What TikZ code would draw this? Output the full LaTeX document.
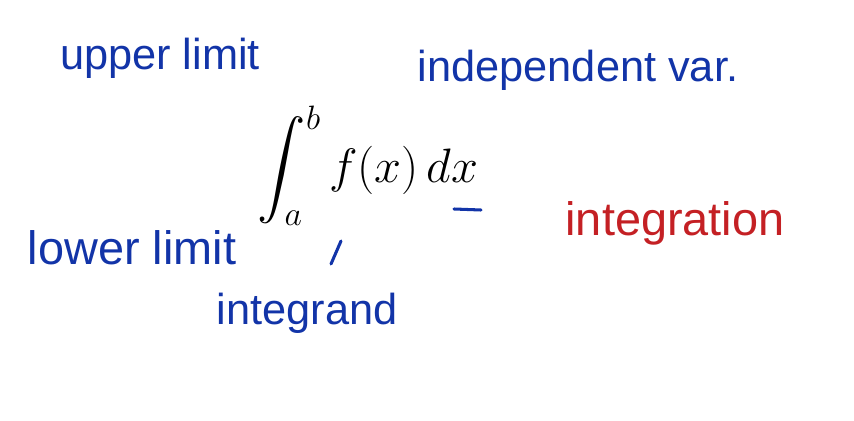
\RequirePackage{fix-cm}
\documentclass[tikz,border=0pt]{standalone}
\usepackage{amsmath,amssymb}
\usepackage{fontspec}
\setmainfont{Liberation Sans}
\usepackage{tikz}
\usetikzlibrary{arrows.meta,positioning}

\definecolor{inkblue}{RGB}{18,52,168}
\definecolor{inkred}{RGB}{196,32,36}

\begin{document}
\begin{tikzpicture}[
  x=0.03cm,y=-0.03cm,
  note/.style={text=inkblue,font=\fontsize{40}{44}\selectfont,inner sep=0pt},
  smallnote/.style={note,font=\fontsize{37}{41}\selectfont},
  stroke/.style={draw=inkblue,line width=2.6pt,line cap=round}
]
\useasboundingbox (0,0) rectangle (854,421);

\node[smallnote] (upper) at (160,58) {upper limit};
\node[smallnote] (indep) at (578,70) {independent var.};
\node[inner sep=0pt,font=\fontsize{33}{38}\selectfont] (integral) at (368,166)
  {\scalebox{1.25}{$\displaystyle\int_a^b f(x)\,dx$}};
\node[note] (lower) at (132,248) {lower limit};
\node[smallnote] (integrand) at (307,313) {integrand};
\node[note,text=inkred] (integration) at (675,223) {integration};

% small marks
\draw[stroke] (454,209) -- (481,210);
\draw[stroke] (341,241) -- (331,264);

\end{tikzpicture}
\end{document}
